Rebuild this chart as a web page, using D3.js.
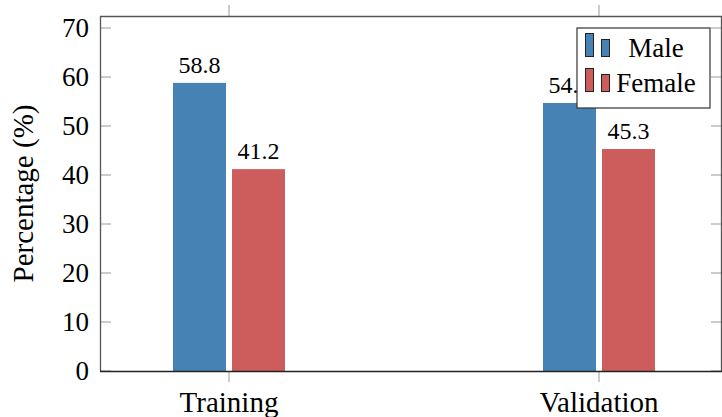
<!DOCTYPE html>
<html>
<head>
<meta charset="utf-8">
<script src="https://d3js.org/d3.v7.min.js"></script>
<style>
  body { margin: 0; background: #fff; }
</style>
</head>
<body>
<div id="chart"></div>
<script>
// data
const categories = ["Training", "Validation"];
const seriesNames = ["Male", "Female"];
const male = [58.8, 54.7];
const female = [41.2, 45.3];
const yTicks = [0, 10, 20, 30, 40, 50, 60, 70];

const width = 722, height = 417;
const plotL = 100, plotR = 722, plotT = 16, plotB = 371;
const colors = ["#4682b4", "#cd5c5c"];
const serif = "Liberation Serif";

const svg = d3.select("#chart").append("svg")
    .attr("width", width)
    .attr("height", height);

const x = d3.scalePoint()
    .domain(categories)
    .range([229, 599]);

const y = d3.scaleLinear()
    .domain([0, 72.45])
    .range([plotB, plotT]);

const barW = 53, gap = 6;
const series = [male, female];

// bars
series.forEach((vals, s) => {
  const off = s === 0 ? -(barW + gap / 2) : gap / 2;
  svg.append("g").selectAll("rect")
    .data(vals)
    .enter()
    .append("rect")
    .attr("x", (d, i) => x(categories[i]) + off)
    .attr("y", d => y(d))
    .attr("width", barW)
    .attr("height", d => y(0) - y(d))
    .attr("fill", colors[s]);

  svg.append("g").selectAll("text")
    .data(vals)
    .enter()
    .append("text")
    .attr("x", (d, i) => x(categories[i]) + off + barW / 2)
    .attr("y", d => y(d) - 10)
    .attr("text-anchor", "middle")
    .attr("font-family", serif)
    .attr("font-size", 24)
    .text(d => d.toFixed(1));
});

// y ticks, inside on both sides
const yt = svg.append("g");
yTicks.forEach(t => {
  yt.append("line")
    .attr("x1", plotL).attr("x2", plotL + 11)
    .attr("y1", y(t)).attr("y2", y(t))
    .attr("stroke", "#999").attr("stroke-width", 1);
  yt.append("line")
    .attr("x1", plotR - 11).attr("x2", plotR)
    .attr("y1", y(t)).attr("y2", y(t))
    .attr("stroke", "#999").attr("stroke-width", 1);
  yt.append("text")
    .attr("x", 89)
    .attr("y", y(t) + 9)
    .attr("text-anchor", "end")
    .attr("font-family", serif)
    .attr("font-size", 27)
    .text(t);
});

// x ticks, outside top and bottom
categories.forEach(c => {
  svg.append("line")
    .attr("x1", x(c)).attr("x2", x(c))
    .attr("y1", plotT - 11).attr("y2", plotT)
    .attr("stroke", "#999");
  svg.append("line")
    .attr("x1", x(c)).attr("x2", x(c))
    .attr("y1", plotB).attr("y2", plotB + 11)
    .attr("stroke", "#999");
  svg.append("text")
    .attr("x", x(c))
    .attr("y", 412)
    .attr("text-anchor", "middle")
    .attr("font-family", serif)
    .attr("font-size", 29)
    .text(c);
});

// axis box
svg.append("line").attr("x1", plotL).attr("x2", plotR).attr("y1", plotT + 0.5).attr("y2", plotT + 0.5)
  .attr("stroke", "#555").attr("stroke-width", 1.3);
svg.append("line").attr("x1", plotL + 0.5).attr("x2", plotL + 0.5).attr("y1", plotT).attr("y2", plotB)
  .attr("stroke", "#555").attr("stroke-width", 1.3);
svg.append("line").attr("x1", plotR - 0.5).attr("x2", plotR - 0.5).attr("y1", plotT).attr("y2", plotB)
  .attr("stroke", "#555").attr("stroke-width", 1.3);
svg.append("line").attr("x1", plotL).attr("x2", plotR).attr("y1", plotB + 0.5).attr("y2", plotB + 0.5)
  .attr("stroke", "#222").attr("stroke-width", 1.3);

// y label
svg.append("text")
  .attr("transform", "translate(33," + ((plotT + plotB) / 2) + ") rotate(-90)")
  .attr("text-anchor", "middle")
  .attr("font-family", serif)
  .attr("font-size", 29)
  .text("Percentage (%)");

// legend
const lg = svg.append("g").attr("transform", "translate(577,28)");
lg.append("rect")
  .attr("width", 133).attr("height", 80)
  .attr("fill", "#fff").attr("stroke", "#333").attr("stroke-width", 1.2);
seriesNames.forEach((name, i) => {
  const row = lg.append("g").attr("transform", "translate(0," + (i * 35) + ")");
  row.append("rect")
    .attr("x", 8.5).attr("y", 5.5).attr("width", 8).attr("height", 23)
    .attr("fill", colors[i]).attr("stroke", "#222").attr("stroke-width", 1);
  row.append("rect")
    .attr("x", 24.5).attr("y", 11.5).attr("width", 8).attr("height", 17)
    .attr("fill", colors[i]).attr("stroke", "#222").attr("stroke-width", 1);
  row.append("text")
    .attr("x", 79)
    .attr("y", 29)
    .attr("text-anchor", "middle")
    .attr("font-family", serif)
    .attr("font-size", 27)
    .text(name);
});
</script>
</body>
</html>
